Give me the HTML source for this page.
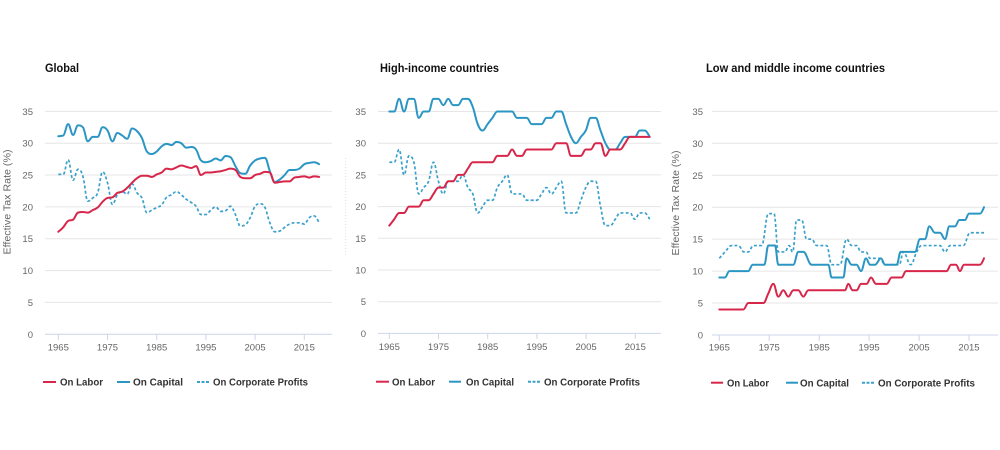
<!DOCTYPE html>
<html><head><meta charset="utf-8"><style>
html,body{margin:0;padding:0;background:#fff;}
svg{display:block;}
text{font-family:"Liberation Sans",Arial,sans-serif;}
.t{font-size:11.5px;font-weight:bold;fill:#111;}
.yl{font-size:9.5px;fill:#666;text-anchor:end;}
.xl{font-size:9.5px;fill:#666;text-anchor:middle;}
.lg{font-size:10px;font-weight:bold;fill:#333;}
.at{font-size:10px;fill:#666;text-anchor:middle;}
.g{stroke:#e6e6e6;stroke-width:1;}
.ax{stroke:#ccd6eb;stroke-width:1;}
</style></head><body>
<svg id="s" width="1000" height="450" viewBox="0 0 1000 450" xmlns="http://www.w3.org/2000/svg">
<rect width="1000" height="450" fill="#fff"/>
<!-- Titles -->
<text class="t" x="45" y="72" textLength="34" lengthAdjust="spacingAndGlyphs">Global</text>
<text class="t" x="380" y="72" textLength="119" lengthAdjust="spacingAndGlyphs">High-income countries</text>
<text class="t" x="706" y="72" textLength="179" lengthAdjust="spacingAndGlyphs">Low and middle income countries</text>

<!-- Panel 1 grid -->
<g id="g1">
<line class="g" x1="45" x2="332" y1="111.4" y2="111.4"/>
<line class="g" x1="45" x2="332" y1="143.2" y2="143.2"/>
<line class="g" x1="45" x2="332" y1="175.0" y2="175.0"/>
<line class="g" x1="45" x2="332" y1="206.9" y2="206.9"/>
<line class="g" x1="45" x2="332" y1="238.7" y2="238.7"/>
<line class="g" x1="45" x2="332" y1="270.6" y2="270.6"/>
<line class="g" x1="45" x2="332" y1="302.4" y2="302.4"/>
<line class="ax" x1="45" x2="332" y1="334.3" y2="334.3"/>
</g>
<text class="yl" x="33" y="114.9">35</text>
<text class="yl" x="33" y="146.7">30</text>
<text class="yl" x="33" y="178.5">25</text>
<text class="yl" x="33" y="210.4">20</text>
<text class="yl" x="33" y="242.2">15</text>
<text class="yl" x="33" y="274.1">10</text>
<text class="yl" x="33" y="305.9">5</text>
<text class="yl" x="33" y="337.8">0</text>
<g class="ax">
<line x1="58.3" x2="58.3" y1="334.3" y2="340"/>
<line x1="107.5" x2="107.5" y1="334.3" y2="340"/>
<line x1="156.7" x2="156.7" y1="334.3" y2="340"/>
<line x1="205.9" x2="205.9" y1="334.3" y2="340"/>
<line x1="255.1" x2="255.1" y1="334.3" y2="340"/>
<line x1="304.3" x2="304.3" y1="334.3" y2="340"/>
</g>
<text class="xl" x="58.3" y="350.3">1965</text>
<text class="xl" x="107.5" y="350.3">1975</text>
<text class="xl" x="156.7" y="350.3">1985</text>
<text class="xl" x="205.9" y="350.3">1995</text>
<text class="xl" x="255.1" y="350.3">2005</text>
<text class="xl" x="304.3" y="350.3">2015</text>
<text class="at" transform="translate(10.5,202) rotate(-90)" textLength="105" lengthAdjust="spacingAndGlyphs">Effective Tax Rate (%)</text>

<!-- Panel 2 grid -->
<g>
<line class="g" x1="378" x2="661" y1="111.5" y2="111.5"/>
<line class="g" x1="378" x2="661" y1="143.2" y2="143.2"/>
<line class="g" x1="378" x2="661" y1="174.9" y2="174.9"/>
<line class="g" x1="378" x2="661" y1="206.6" y2="206.6"/>
<line class="g" x1="378" x2="661" y1="238.3" y2="238.3"/>
<line class="g" x1="378" x2="661" y1="270.0" y2="270.0"/>
<line class="g" x1="378" x2="661" y1="301.7" y2="301.7"/>
<line class="ax" x1="378" x2="661" y1="333.4" y2="333.4"/>
</g>
<text class="yl" x="366" y="115">35</text>
<text class="yl" x="366" y="146.7">30</text>
<text class="yl" x="366" y="178.4">25</text>
<text class="yl" x="366" y="210.1">20</text>
<text class="yl" x="366" y="241.8">15</text>
<text class="yl" x="366" y="273.5">10</text>
<text class="yl" x="366" y="305.2">5</text>
<text class="yl" x="366" y="336.9">0</text>
<g class="ax">
<line x1="389.3" x2="389.3" y1="333.4" y2="339"/>
<line x1="438.5" x2="438.5" y1="333.4" y2="339"/>
<line x1="487.7" x2="487.7" y1="333.4" y2="339"/>
<line x1="536.9" x2="536.9" y1="333.4" y2="339"/>
<line x1="586.1" x2="586.1" y1="333.4" y2="339"/>
<line x1="635.3" x2="635.3" y1="333.4" y2="339"/>
</g>
<text class="xl" x="389.3" y="350">1965</text>
<text class="xl" x="438.5" y="350">1975</text>
<text class="xl" x="487.7" y="350">1985</text>
<text class="xl" x="536.9" y="350">1995</text>
<text class="xl" x="586.1" y="350">2005</text>
<text class="xl" x="635.3" y="350">2015</text>
<line x1="345.7" x2="345.7" y1="158" y2="255" stroke="#cfe3ec" stroke-width="1" stroke-dasharray="1,2"/>

<!-- Panel 3 grid -->
<g>
<line class="g" x1="712" x2="998" y1="111.35" y2="111.35"/>
<line class="g" x1="712" x2="998" y1="143.3" y2="143.3"/>
<line class="g" x1="712" x2="998" y1="175.25" y2="175.25"/>
<line class="g" x1="712" x2="998" y1="207.2" y2="207.2"/>
<line class="g" x1="712" x2="998" y1="239.15" y2="239.15"/>
<line class="g" x1="712" x2="998" y1="271.1" y2="271.1"/>
<line class="g" x1="712" x2="998" y1="303.05" y2="303.05"/>
<line class="ax" x1="712" x2="998" y1="335" y2="335"/>
</g>
<text class="yl" x="703" y="114.9">35</text>
<text class="yl" x="703" y="146.8">30</text>
<text class="yl" x="703" y="178.8">25</text>
<text class="yl" x="703" y="210.7">20</text>
<text class="yl" x="703" y="242.7">15</text>
<text class="yl" x="703" y="274.6">10</text>
<text class="yl" x="703" y="306.6">5</text>
<text class="yl" x="703" y="338.5">0</text>
<g class="ax">
<line x1="719.3" x2="719.3" y1="335" y2="341"/>
<line x1="769.2" x2="769.2" y1="335" y2="341"/>
<line x1="819.2" x2="819.2" y1="335" y2="341"/>
<line x1="869.1" x2="869.1" y1="335" y2="341"/>
<line x1="919.1" x2="919.1" y1="335" y2="341"/>
<line x1="969.0" x2="969.0" y1="335" y2="341"/>
</g>
<text class="xl" x="719.3" y="350.3">1965</text>
<text class="xl" x="769.2" y="350.3">1975</text>
<text class="xl" x="819.2" y="350.3">1985</text>
<text class="xl" x="869.1" y="350.3">1995</text>
<text class="xl" x="919.1" y="350.3">2005</text>
<text class="xl" x="969.0" y="350.3">2015</text>
<text class="at" transform="translate(679,203) rotate(-90)" textLength="105" lengthAdjust="spacingAndGlyphs">Effective Tax Rate (%)</text>

<!-- Series container -->
<g id="series" fill="none" stroke-linejoin="round" stroke-linecap="round"></g>

<!-- Legends -->
<g stroke-width="2">
<line x1="43" x2="56" y1="382" y2="382" stroke="#d7264a"/>
<line x1="117" x2="130" y1="382" y2="382" stroke="#2b96c3"/>
<line x1="197" x2="209" y1="382" y2="382" stroke="#3aa0cc" stroke-dasharray="3,1.5"/>
<line x1="376" x2="389" y1="381.7" y2="381.7" stroke="#d7264a"/>
<line x1="449" x2="461" y1="381.7" y2="381.7" stroke="#2b96c3"/>
<line x1="528" x2="541" y1="381.7" y2="381.7" stroke="#3aa0cc" stroke-dasharray="3,1.5"/>
<line x1="711" x2="723" y1="382.7" y2="382.7" stroke="#d7264a"/>
<line x1="786" x2="798" y1="382.7" y2="382.7" stroke="#2b96c3"/>
<line x1="862" x2="874" y1="382.7" y2="382.7" stroke="#3aa0cc" stroke-dasharray="3,1.5"/>
</g>
<text class="lg" x="60" y="385.6" textLength="43" lengthAdjust="spacingAndGlyphs">On Labor</text>
<text class="lg" x="133" y="385.6" textLength="50" lengthAdjust="spacingAndGlyphs">On Capital</text>
<text class="lg" x="213" y="385.6" textLength="95" lengthAdjust="spacingAndGlyphs">On Corporate Profits</text>
<text class="lg" x="392" y="385.3" textLength="43" lengthAdjust="spacingAndGlyphs">On Labor</text>
<text class="lg" x="466" y="385.3" textLength="48" lengthAdjust="spacingAndGlyphs">On Capital</text>
<text class="lg" x="544" y="385.3" textLength="96" lengthAdjust="spacingAndGlyphs">On Corporate Profits</text>
<text class="lg" x="727" y="386.3" textLength="42" lengthAdjust="spacingAndGlyphs">On Labor</text>
<text class="lg" x="800" y="386.3" textLength="49" lengthAdjust="spacingAndGlyphs">On Capital</text>
<text class="lg" x="878" y="386.3" textLength="97" lengthAdjust="spacingAndGlyphs">On Corporate Profits</text>
</svg>
<script>
(function(){
function spline(pts){
  var sm=1.5,den=2.5,rc=[],d='';
  for(var i=0;i<pts.length;i++){
    var x=pts[i][0],y=pts[i][1],lcx=x,lcy=y,rcx=x,rcy=y;
    if(i>0&&i<pts.length-1){
      var lx=pts[i-1][0],ly=pts[i-1][1],nx=pts[i+1][0],ny=pts[i+1][1];
      lcx=(sm*x+lx)/den;lcy=(sm*y+ly)/den;rcx=(sm*x+nx)/den;rcy=(sm*y+ny)/den;
      if(rcx!==lcx){
        var c=((rcy-lcy)*(rcx-x))/(rcx-lcx)+y-rcy;
        lcy+=c;rcy+=c;
        if(lcy>ly&&lcy>y){lcy=Math.max(ly,y);rcy=2*y-lcy;}
        else if(lcy<ly&&lcy<y){lcy=Math.min(ly,y);rcy=2*y-lcy;}
        if(rcy>ny&&rcy>y){rcy=Math.max(ny,y);lcy=2*y-rcy;}
        else if(rcy<ny&&rcy<y){rcy=Math.min(ny,y);lcy=2*y-rcy;}
      }
    }
    if(i===0){d='M'+x.toFixed(2)+','+y.toFixed(2);}
    else{d+=' C'+rc[i-1][0].toFixed(2)+','+rc[i-1][1].toFixed(2)+' '+lcx.toFixed(2)+','+lcy.toFixed(2)+' '+x.toFixed(2)+','+y.toFixed(2);}
    rc.push([rcx,rcy]);
  }
  return d;
}
function yearly(vals,x0,dx,y0,k){
  var p=[];for(var i=0;i<vals.length;i++){p.push([x0+i*dx,y0-vals[i]*k]);}return p;
}
function zpts(arr){
  var p=[];for(var i=0;i<arr.length;i+=2){p.push([670+arr[i]/3,335-arr[i+1]*6.39]);}return p;
}
var RED='#d7264a',BLUE='#2b96c3',DOT='#3aa0cc';
var g=document.getElementById('series');
function add(pts,color,dash){
  var e=document.createElementNS('http://www.w3.org/2000/svg','path');
  e.setAttribute('d',spline(pts));e.setAttribute('stroke',color);
  e.setAttribute('stroke-width',dash?'1.7':'2');
  if(dash){e.setAttribute('stroke-dasharray','3,2.2');e.setAttribute('stroke-linecap','butt');}
  g.appendChild(e);
}
// Panel 1
var c1=[31.1,31.2,33.0,31.3,32.8,32.5,30.3,31.0,31.0,32.5, 32.0,30.3,31.6,31.2,30.7,32.3,31.9,30.8,28.7,28.3, 28.7,29.5,29.9,29.7,30.2,30.0,29.3,29.4,29.0,27.3, 27.0,27.2,27.6,27.3,28.0,27.8,26.4,25.3,25.2,26.5, 27.3,27.6,27.7,25.6,23.9,24.3,25.0,25.8,25.8,26.0, 26.7,26.9,27.0,26.7];
var l1=[16.1,16.8,17.8,18.0,19.1,19.2,19.1,19.5,19.9,20.8, 21.4,21.5,22.2,22.4,23.0,23.8,24.5,24.9,24.9,24.7, 25.1,25.4,26.0,25.9,26.2,26.5,26.3,26.1,26.4,25.0, 25.4,25.4,25.5,25.6,25.8,26.0,25.8,24.7,24.5,24.5, 25.0,25.2,25.5,25.4,23.8,23.9,24.0,24.0,24.6,24.7, 24.8,24.6,24.8,24.7];
var p1=[25.1,25.1,27.4,24.2,25.9,24.8,20.9,21.4,22.2,25.5, 23.8,20.4,21.9,22.4,22.0,23.6,22.2,21.4,19.1,19.5, 19.9,20.3,21.5,21.9,22.4,21.9,21.2,20.7,20.1,18.8, 18.8,19.5,20.0,19.3,19.4,20.1,18.8,17.0,17.2,18.3, 20.1,20.5,19.9,17.5,16.1,16.2,16.8,17.3,17.5,17.5, 17.3,18.3,18.6,17.5];
add(yearly(p1,58.3,4.92,334.3,6.37),DOT,true);
add(yearly(c1,58.3,4.92,334.3,6.37),BLUE,false);
add(yearly(l1,58.3,4.92,334.3,6.37),RED,false);
// Panel 2
var c2=[35,35,37,35,37,37,34,35,35,37, 37,36,37,36,36,37,37,35.7,33,32, 33,34,35,35,35,35,34,34,34,33, 33,33,34,34,35,35,33,31,30,31, 32,34,34,32,30,29,29,30,31,31, 31,32,32,31];
var l2=[17,18,19,19,20,20,20,21,21,22, 23,23,24,24,25,25,26,27,27,27, 27,27,28,28,28,29,28,28,29,29, 29,29,29,29,30,30,30,28,28,28, 29,29,30,30,28,29,29,29,30,31, 31,31,31,31];
var p2=[27,27,29,25,28,27,22,23,24,27, 24,22,24,24,24,25,23,22,19,20, 21,21,23,24,25,22,22,22,21,21, 21,22,23,22,23,24,19,19,19,21, 23,24,24,20,17,17,18,19,19,19, 18,19,19,18];
add(yearly(p2,389.3,4.912,333.4,6.34),DOT,true);
add(yearly(c2,389.3,4.912,333.4,6.34),BLUE,false);
add(yearly(l2,389.3,4.912,333.4,6.34),RED,false);
// Panel 3
var c3=[148,9,165,9,178,10,235,10,248,11,283,11,295,14,315,14,325,11,370,11,385,13,400,13,425,11,475,11,485,9,520,9,530,12,545,11,560,11,573,10,588,12,600,11,615,11,633,12,645,11,680,11,692,13,735,13,750,15,765,15,778,17,795,16,810,16,825,15,838,17,855,17,868,18,885,18,897,19,930,19,942,20];
var p3=[148,12,165,13,185,14,205,14,222,13,235,13,250,14,275,14,295,19,312,19,325,13,345,13,357,14,368,13,380,18,395,18,410,15,425,15,440,14,470,14,485,11,510,11,530,15,545,14,560,14,573,13,588,13,600,12,630,12,645,11,688,11,700,13,722,11,740,13,755,14,810,14,825,13,840,14,880,14,900,16,942,16];
var l3=[148,4,220,4,235,5,280,5,295,6.5,310,8,325,6,340,7,355,6,370,7,385,7,400,6,415,7,525,7,535,8,548,7,560,7,573,8,590,8,603,9,618,8,650,8,665,9,695,9,708,10,830,10,843,11,858,11,870,10,882,11,930,11,942,12];
add(zpts(p3),DOT,true);
add(zpts(c3),BLUE,false);
add(zpts(l3),RED,false);
})();
</script>
</body></html>
